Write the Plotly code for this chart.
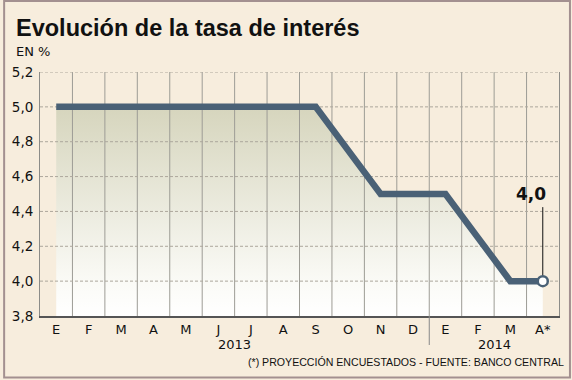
import plotly.graph_objects as go

# ---- data ----
months = ["E", "F", "M", "A", "M", "J", "J", "A", "S", "O", "N", "D", "E", "F", "M", "A*"]
rate = [5.0, 5.0, 5.0, 5.0, 5.0, 5.0, 5.0, 5.0, 5.0, 4.75, 4.5, 4.5, 4.5, 4.25, 4.0, 4.0]
years = ["2013", "2014"]
months_per_year = [12, 4]
y_ticks = [3.8, 4.0, 4.2, 4.4, 4.6, 4.8, 5.0, 5.2]
y_tick_text = [f"{v:.1f}".replace(".", ",") for v in y_ticks]

title = "Evolución de la tasa de interés"
unit = "EN %"
footer = "(*) PROYECCIÓN ENCUESTADOS - FUENTE: BANCO CENTRAL"

# ---- styles ----
BG = "#f7eddd"
LINE = "#4a6176"
VGRID = "#9d9c95"
HGRID = "#ada79c"
FONT = "DejaVu Sans, Verdana, sans-serif"

x = list(range(len(months)))
x_min, x_max = -0.5, len(months) - 0.5
y_min, y_max = y_ticks[0], y_ticks[-1]

fig = go.Figure()

# gradient area under the line
fig.add_trace(go.Scatter(
    x=x, y=rate, mode="lines", line=dict(width=0, color=LINE),
    fill="tozeroy",
    fillgradient=dict(type="vertical", start=y_min, stop=max(rate),
                      colorscale=[[0, "#ffffff"], [0.15, "#fbfbf7"], [1, "#d6d5bd"]]),
    hoverinfo="skip", showlegend=False))

# vertical grid lines between months (drawn over the fill)
vx, vy = [], []
for i in x[:-1]:
    vx += [i + 0.5, i + 0.5, None]
    vy += [y_min, y_max, None]
fig.add_trace(go.Scatter(x=vx, y=vy, mode="lines", line=dict(color=VGRID, width=1),
                         hoverinfo="skip", showlegend=False))

# horizontal dashed grid lines
hx, hy = [], []
for v in y_ticks[1:]:
    hx += [x_min, x_max, None]
    hy += [v, v, None]
fig.add_trace(go.Scatter(x=hx, y=hy, mode="lines",
                         line=dict(color=HGRID, width=1, dash="3px,2px"),
                         hoverinfo="skip", showlegend=False))

# main line
fig.add_trace(go.Scatter(x=x, y=rate, mode="lines", line=dict(color=LINE, width=6.5),
                         showlegend=False))

# last (projected) point
fig.add_trace(go.Scatter(x=[x[-1]], y=[rate[-1]], mode="markers",
                         marker=dict(symbol="circle", size=10, color="white",
                                     line=dict(color=LINE, width=2.5)),
                         showlegend=False))

annotations = []
# title and unit
annotations.append(dict(xref="paper", yref="paper", x=-26 / 521, y=(316 - 28) / 244,
                        xanchor="left", yanchor="middle", showarrow=False,
                        text=f"<b>{title}</b>",
                        font=dict(family="Liberation Sans, Arial, sans-serif", size=23.5, color="#111")))
annotations.append(dict(xref="paper", yref="paper", x=-26 / 521, y=(316 - 52) / 244,
                        xanchor="left", yanchor="middle", showarrow=False,
                        text=unit, font=dict(family=FONT, size=13, color="#111")))
# year labels
start = 0
for yr, n in zip(years, months_per_year):
    center = start + (n - 1) / 2
    annotations.append(dict(xref="x", yref="paper", x=center, y=(316 - 344) / 244,
                            xanchor="center", yanchor="middle", showarrow=False,
                            text=yr, font=dict(family=FONT, size=13, color="#111")))
    start += n
# footer
annotations.append(dict(xref="paper", yref="paper", x=(566 - 38) / 521, y=(316 - 361.5) / 244,
                        xanchor="right", yanchor="middle", showarrow=False,
                        text=footer,
                        font=dict(family="Liberation Sans, Arial, sans-serif",
                                  size=10.6, color="#111")))
# value callout
annotations.append(dict(x=x[-1], y=rate[-1], xref="x", yref="y", text=" ",
                        showarrow=True, arrowhead=0, arrowwidth=1, arrowcolor="#111",
                        ax=0, ay=-78, standoff=6, font=dict(size=4)))
annotations.append(dict(x=x[-1], y=rate[-1], xref="x", yref="y",
                        text=f"<b>{rate[-1]:.1f}</b>".replace(".", ","),
                        showarrow=False, xanchor="right", yanchor="middle",
                        xshift=5, yshift=87,
                        font=dict(family=FONT, size=17, color="#111")))

# separator between years below the axis
sep = months_per_year[0] - 0.5
shapes = [
    dict(type="line", xref="x", yref="paper", x0=sep, x1=sep, y0=0, y1=(316 - 345) / 244,
         line=dict(color="#888", width=1)),
    # outer frame
    dict(type="rect", xref="paper", yref="paper",
         x0=(2 - 38) / 521, x1=(570 - 38) / 521, y0=(316 - 377.5) / 244, y1=(316 - 1) / 244,
         line=dict(color="#a39090", width=2), fillcolor="rgba(0,0,0,0)", layer="below"),
]

fig.update_layout(
    width=572, height=380,
    margin=dict(l=38, r=13, t=72, b=64),
    paper_bgcolor=BG, plot_bgcolor=BG,
    annotations=annotations, shapes=shapes,
    xaxis=dict(range=[x_min, x_max], tickmode="array", tickvals=x, ticktext=months,
               showgrid=False, zeroline=False, showline=True, linecolor="#555", linewidth=1.5,
               ticks="outside", ticklen=1, tickcolor="rgba(0,0,0,0)",
               tickfont=dict(family=FONT, size=13, color="#111"), fixedrange=True),
    yaxis=dict(range=[y_min, y_max], tickmode="array", tickvals=y_ticks, ticktext=y_tick_text,
               showgrid=False, zeroline=False, showline=True, mirror=True,
               linecolor="#8c8c88", linewidth=1,
               ticks="outside", ticklen=3, tickcolor="rgba(0,0,0,0)",
               tickfont=dict(family=FONT, size=13.5, color="#111"), fixedrange=True),
    font=dict(family=FONT),
)

fig.write_html("out.html", config={"displayModeBar": False},
               post_script="document.body.style.margin='0';document.body.style.padding='0';")
